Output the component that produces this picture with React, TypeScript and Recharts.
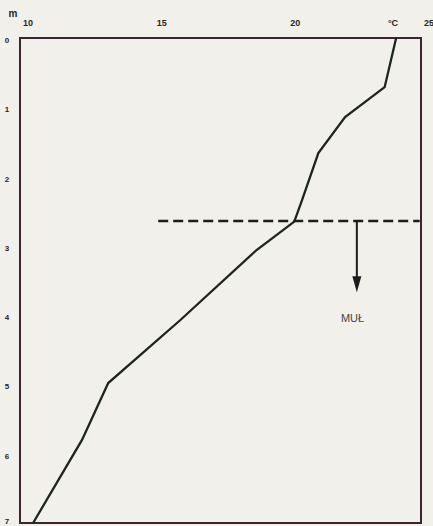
import { LineChart, Line, XAxis, YAxis, ReferenceArea, ReferenceLine, ReferenceDot } from 'recharts'

// temperature profile (°C) against depth (m)
const temps = [24.07, 23.64, 22.16, 21.16, 20.55, 20.26, 18.85, 16.0, 13.3, 12.32, 10.49]
const depths = [0, 0.71, 1.14, 1.66, 2.34, 2.65, 3.06, 4.07, 4.98, 5.8, 7.0]

const tempTicks = [10, 15, 20, 25]
const depthTicks = [0, 1, 2, 3, 4, 5, 6, 7]

const thermoclineDepth = 2.64
const thermoclineFrom = 15.17
const thermoclineTo = 24.95
const arrowTemp = 22.6
const arrowTip = 3.67
const mulLabel = 'MUŁ'

const data = temps.map((t, i) => ({ t, d: depths[i] }))

const ink = '#2b2626'
const frame = '#3b2530'
const font = '"Liberation Sans", Arial, sans-serif'

const ArrowHead = (props: any) => {
    const { cx, cy } = props
    return <path d={`M${cx - 4.5},${cy - 16} L${cx + 4.5},${cy - 16} L${cx},${cy} Z`} fill="#1c1c1c" />
}

const DepthTick = (props: any) => {
    const { x, y, payload } = props
    // the bottom label sits on the page edge, nudge it up a little
    const yy = payload.value === 7 ? y - 2 : y + 2
    return (
        <text x={x - 5} y={yy} dy={3} fontSize={8} fontFamily={font} fontWeight="bold" fill={ink} textAnchor="middle">
            {payload.value}
        </text>
    )
}

const TempTick = (props: any) => {
    const { x, y, payload } = props
    return (
        <text x={x + 8} y={y - 4} fontSize={9} fontFamily={font} fontWeight="bold" fill={ink} textAnchor="middle">
            {payload.value}
        </text>
    )
}

export default function App() {
    return (
        <div style={{ position: 'fixed', left: 0, top: 0, width: 433, height: 526, background: '#f1f0ea' }}>
            <LineChart width={433} height={526} data={data} margin={{ top: 0, right: 12, bottom: 3, left: 0 }}>
                <XAxis
                    dataKey="t"
                    type="number"
                    orientation="top"
                    domain={[10, 25]}
                    ticks={tempTicks}
                    height={38}
                    axisLine={false}
                    tickLine={false}
                    tick={TempTick}
                    interval={0}
                />
                <YAxis
                    type="number"
                    domain={[0, 7]}
                    reversed
                    ticks={depthTicks}
                    width={20}
                    axisLine={false}
                    tickLine={false}
                    tick={DepthTick}
                    interval={0}
                />
                <ReferenceArea x1={10} x2={25} y1={0} y2={7} fill="none" stroke={frame} strokeWidth={2} />
                <ReferenceLine
                    segment={[{ x: thermoclineFrom, y: thermoclineDepth }, { x: thermoclineTo, y: thermoclineDepth }]}
                    stroke="#1c1c1c"
                    strokeWidth={2.5}
                    strokeDasharray="10 5"
                />
                <ReferenceLine
                    segment={[{ x: arrowTemp, y: thermoclineDepth }, { x: arrowTemp, y: arrowTip - 0.15 }]}
                    stroke="#1c1c1c"
                    strokeWidth={2}
                />
                <ReferenceDot x={arrowTemp} y={arrowTip} shape={ArrowHead} />
                <ReferenceDot
                    x={arrowTemp - 0.16}
                    y={4.04}
                    r={0}
                    label={{ value: mulLabel, fill: '#4a4545', fontSize: 11, fontFamily: font, position: 'center' }}
                />
                <ReferenceDot
                    x={23.95}
                    y={0}
                    r={0}
                    ifOverflow="visible"
                    label={{ value: '°C', fill: ink, fontSize: 9, fontFamily: font, fontWeight: 'bold', position: 'top', offset: 12 }}
                />
                <text x={13} y={17} fontSize={10} fontFamily={font} fontWeight="bold" fill={ink} textAnchor="middle">m</text>
                <Line
                    dataKey="d"
                    stroke="#1d251d"
                    strokeWidth={2.3}
                    dot={false}
                    isAnimationActive={false}
                />
            </LineChart>
        </div>
    )
}
